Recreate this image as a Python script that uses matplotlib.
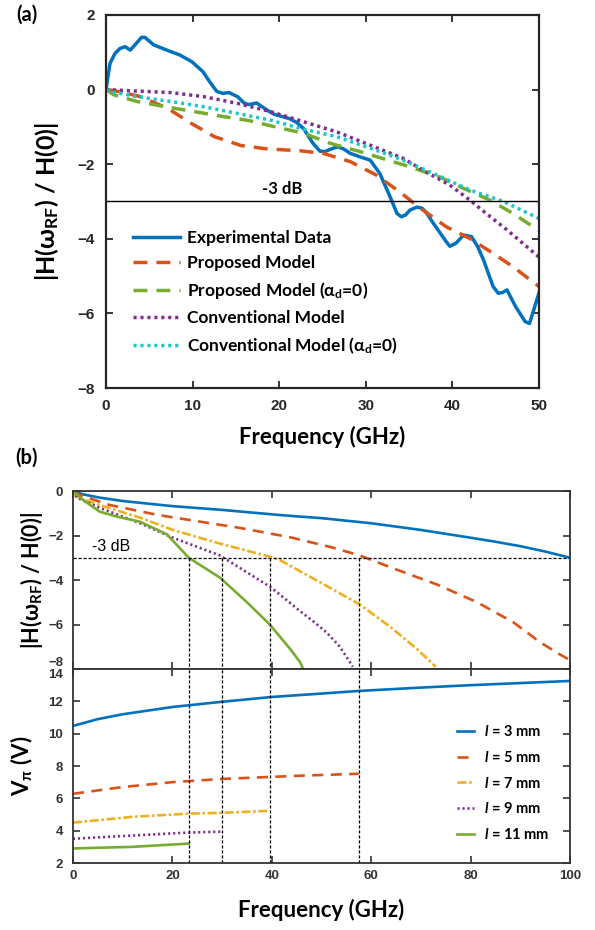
import matplotlib
matplotlib.use("Agg")
import matplotlib.pyplot as plt

plt.rcParams['font.family'] = ['Lato', 'DejaVu Sans']
plt.rcParams['mathtext.fontset'] = 'custom'
plt.rcParams['mathtext.rm'] = 'Lato:bold'
plt.rcParams['mathtext.it'] = 'Lato:bold:italic'
plt.rcParams['mathtext.bf'] = 'Lato:bold'

# ---------------- panel (a) data ----------------
exp_f = [0, 0.46, 1.04, 1.6, 2.2, 2.8, 3.35, 4.1, 4.5, 5.5, 7, 8.5, 9.9, 11.2, 12.0, 12.8,
         13.5, 14.2, 15.2, 16.0, 16.5, 17.4, 18.6, 19.4, 20.3, 21.2, 22.0, 22.8, 23.9, 24.7,
         25.3, 25.9, 26.8, 27.5, 28.2, 29.3, 30.5, 31.6, 32.8, 33.6, 34.1, 34.6, 35.1, 35.9,
         36.5, 37.0, 37.7, 38.6, 39.2, 39.7, 40.4, 41.3, 42.2, 42.9, 43.6, 44.7, 45.3, 45.8,
         46.3, 47.3, 48.4, 48.9, 49.4, 50]
exp_v = [0, 0.7, 0.97, 1.1, 1.15, 1.06, 1.2, 1.4, 1.4, 1.2, 1.06, 0.93, 0.75, 0.48, 0.2, -0.05,
         -0.1, -0.08, -0.19, -0.37, -0.4, -0.36, -0.55, -0.66, -0.72, -0.78, -0.88, -1.04, -1.44,
         -1.65, -1.66, -1.6, -1.53, -1.6, -1.71, -1.8, -1.89, -2.24, -2.87, -3.32, -3.41, -3.36,
         -3.23, -3.15, -3.18, -3.3, -3.55, -3.85, -4.05, -4.2, -4.12, -3.9, -3.94, -4.2, -4.57,
         -5.28, -5.46, -5.44, -5.37, -5.82, -6.22, -6.27, -5.9, -5.45]

prop_f = [0, 1.0, 4.0, 7.1, 9.8, 12.5, 15.6, 18.6, 22.4, 25.1, 28.2, 31.2, 33.9, 36.3, 39.3,
          42.0, 44.7, 47.0, 50]
prop_v = [0, -0.03, -0.19, -0.5, -0.9, -1.26, -1.5, -1.59, -1.64, -1.71, -1.93, -2.29, -2.74,
          -3.18, -3.68, -3.99, -4.39, -4.75, -5.28]

prop0_f = [0, 0.9, 3.6, 7.1, 10.2, 13.2, 16.5, 19.2, 22.8, 25.9, 29.3, 35.1, 38.6, 41.3, 44.3,
           47.0, 49.6, 50]
prop0_v = [0, -0.14, -0.32, -0.47, -0.59, -0.71, -0.83, -0.98, -1.17, -1.44, -1.66, -2.07,
           -2.35, -2.65, -2.96, -3.32, -3.72, -3.78]

conv_f = [0, 3.6, 7.5, 11.3, 15.2, 19.0, 22.8, 26.6, 30.5, 34.3, 36.6, 39.7, 42.0, 43.9, 46.3,
          50]
conv_v = [0, -0.04, -0.08, -0.19, -0.37, -0.59, -0.86, -1.13, -1.49, -1.84, -2.16, -2.56,
          -2.96, -3.32, -3.76, -4.49]

conv0_f = [0, 0.7, 3.6, 7.5, 11.3, 15.2, 19.0, 22.8, 26.6, 30.5, 34.3, 38.2, 42.0, 45.9, 49.6,
           50]
conv0_v = [0, -0.06, -0.19, -0.32, -0.46, -0.64, -0.82, -1.06, -1.26, -1.57, -1.89, -2.29,
           -2.69, -3.0, -3.41, -3.46]

labels_a = ['Experimental Data', 'Proposed Model', r'Proposed Model ($\mathrm{\alpha_d}$=0)',
            'Conventional Model', r'Conventional Model ($\mathrm{\alpha_d}$=0)']

# ---------------- panel (b) data ----------------
lengths = [3, 5, 7, 9, 11]
bw_3db = [23.3, 30.0, 39.6, 57.5]

h3_f = [0, 2, 5.4, 10, 20, 30, 41.6, 45.7, 50, 60, 70, 80, 85, 90, 95, 100]
h3_v = [0, -0.15, -0.3, -0.45, -0.68, -0.85, -1.08, -1.15, -1.22, -1.45, -1.75, -2.1, -2.28,
        -2.48, -2.72, -3.0]
h5_f = [0, 1.4, 7.4, 16.9, 25.6, 33.6, 43.7, 52.4, 57.7, 65.2, 73.2, 81.3, 88.6, 94, 98, 100]
h5_v = [0, -0.18, -0.63, -1.07, -1.38, -1.66, -2.08, -2.55, -2.9, -3.54, -4.2, -5.0, -5.9, -6.8,
        -7.35, -7.6]
h7_f = [0, 0.8, 5.4, 13.5, 20.1, 29.0, 39.6, 41.6, 49.7, 57.7, 63.8, 69.2, 73.0]
h7_v = [0, -0.27, -0.63, -1.2, -1.75, -2.33, -2.95, -3.1, -4.1, -5.1, -6.1, -7.1, -7.9]
h9_f = [0, 0.8, 5.4, 13.5, 20.1, 29.6, 39.6, 41.6, 45.7, 48.3, 51.0, 53.7, 56.3]
h9_v = [0, -0.3, -0.76, -1.45, -2.1, -2.9, -4.3, -4.65, -5.4, -5.85, -6.35, -7.0, -7.9]
h11_f = [0, 2, 5.4, 8.8, 13.5, 18.9, 23.3, 29.6, 35.0, 39.6, 43.7, 45.7, 46.3]
h11_v = [0, -0.4, -0.93, -1.15, -1.38, -1.95, -3.0, -3.9, -5.0, -6.0, -7.1, -7.7, -8.0]

v3_f = [0, 5, 10, 20, 29.6, 40, 50, 57.4, 70, 80, 90, 100]
v3_v = [10.48, 10.9, 11.2, 11.65, 11.96, 12.27, 12.48, 12.64, 12.85, 13.0, 13.13, 13.26]
v5_f = [0, 10, 20, 30, 45.7, 57.5]
v5_v = [6.28, 6.7, 7.0, 7.2, 7.4, 7.52]
v7_f = [0, 12.2, 23, 29.6, 39.6]
v7_v = [4.5, 4.86, 5.05, 5.1, 5.23]
v9_f = [0, 12, 23, 30.0]
v9_v = [3.5, 3.7, 3.88, 3.94]
v11_f = [0, 12, 23.3]
v11_v = [2.9, 3.0, 3.2]

blue = '#0072BD'
red = '#D95319'
yellow = '#EDB120'
purple = '#7E2F8E'
green = '#77AC30'
cyan = '#1CC6CC'

tickfont = {'family': 'Liberation Sans', 'weight': 'bold'}

fig = plt.figure(figsize=(5.95, 9.3), dpi=100)

# ================= (a) =================
ax = fig.add_axes([106 / 595, 1 - 388 / 930, 433 / 595, 373 / 930])
lw = 2.5
ax.plot(exp_f, exp_v, color=blue, lw=lw, label=labels_a[0])
ax.plot(prop_f, prop_v, color=red, lw=lw, dashes=(4, 2.6), label=labels_a[1])
ax.plot(prop0_f, prop0_v, color=green, lw=lw, dashes=(4, 2.6), label=labels_a[2])
ax.plot(conv_f, conv_v, color=purple, lw=lw, dashes=(0.9, 1.1), label=labels_a[3])
ax.plot(conv0_f, conv0_v, color=cyan, lw=lw, dashes=(0.9, 1.1), label=labels_a[4])
ax.axhline(-3, color='black', lw=1)
ax.text(18, -2.88, '-3 dB', fontsize=12, fontweight='bold', va='bottom', ha='left')

ax.set_xlim(0, 50)
ax.set_ylim(-8, 2)
ax.set_xticks(range(0, 51, 10))
ax.set_yticks(range(-8, 3, 2))
ax.tick_params(direction='in', top=True, right=True, length=5, width=1.3,
               colors='#262626', pad=8)
for lab in ax.get_xticklabels() + ax.get_yticklabels():
    lab.set_fontproperties(tickfont)
    lab.set_fontsize(11)
for s in ax.spines.values():
    s.set_linewidth(1.6)
    s.set_color('#262626')
ax.set_xlabel('Frequency (GHz)', fontsize=16, fontweight='bold', labelpad=9)
ax.set_ylabel(r'|H(ω$_{\mathrm{RF}}$) / H(0)|', fontsize=18, fontweight='bold', labelpad=12)

ax.legend(loc='upper left', bbox_to_anchor=(133 / 595, 1 - 230 / 930),
          bbox_transform=fig.transFigure, frameon=False,
          prop={'weight': 'bold', 'size': 12.5}, handlelength=2.7, handletextpad=0.4,
          labelspacing=0.52, borderpad=0, borderaxespad=0)

fig.text(27 / 595, 1 - 15 / 930, '(a)', fontsize=14.5, fontweight='bold', ha='center', va='center')
fig.text(27 / 595, 1 - 458 / 930, '(b)', fontsize=14.5, fontweight='bold', ha='center', va='center')

# ================= (b) =================
ax1 = fig.add_axes([73 / 595, 1 - 669 / 930, 497 / 595, 178 / 930])
ax2 = fig.add_axes([73 / 595, 1 - 863 / 930, 497 / 595, 194 / 930])

lwb = 1.9
styles = [dict(color=blue, lw=lwb),
          dict(color=red, lw=lwb, dashes=(4.2, 2.8)),
          dict(color=yellow, lw=lwb, dashes=(3.4, 1.0, 1.0, 1.0)),
          dict(color=purple, lw=lwb, dashes=(0.8, 1.1)),
          dict(color=green, lw=lwb)]

top_f = [h3_f, h5_f, h7_f, h9_f, h11_f]
top_v = [h3_v, h5_v, h7_v, h9_v, h11_v]
bot_f = [v3_f, v5_f, v7_f, v9_f, v11_f]
bot_v = [v3_v, v5_v, v7_v, v9_v, v11_v]

for f, v, st in zip(top_f, top_v, styles):
    ax1.plot(f, v, **st)
for f, v, st, L in zip(bot_f, bot_v, styles, lengths):
    ax2.plot(f, v, label=r'$\mathit{l}$ = %d mm' % L, **st)

ax1.plot([0, 100], [-3, -3], color='black', lw=0.9, dashes=(2.5, 1.5))
for b in bw_3db:
    ax1.plot([b, b], [-3, -8], color='black', lw=0.9, dashes=(2.5, 1.5))
    ax2.axvline(b, color='black', lw=0.9, dashes=(2.5, 1.5))
ax1.text(3.8, -2.85, '-3 dB', fontsize=11.5, family='Liberation Sans', va='bottom', ha='left')

ax1.set_xlim(0, 100)
ax1.set_ylim(-8, 0)
ax1.set_yticks([-8, -6, -4, -2, 0])
ax2.set_xlim(0, 100)
ax2.set_ylim(2, 14)
ax2.set_yticks(range(2, 15, 2))
for a in (ax1, ax2):
    a.set_xticks(range(0, 101, 20))
    a.tick_params(direction='in', top=True, right=True, length=5, width=1.2,
                  colors='#333333', pad=7)
    for s in a.spines.values():
        s.set_linewidth(1.3)
        s.set_color('#333333')
    for lab in a.get_xticklabels() + a.get_yticklabels():
        lab.set_fontproperties(tickfont)
        lab.set_fontsize(9.5)
ax1.tick_params(labelbottom=False)
ax2.tick_params(axis='x', pad=5)

ax1.set_ylabel(r'|H(ω$_{\mathrm{RF}}$) / H(0)|', fontsize=15.5, fontweight='bold', labelpad=2)
ax2.set_ylabel(r'V$_{\mathrm{π}}$ (V)', fontsize=16, fontweight='bold', labelpad=10)
ax2.set_xlabel('Frequency (GHz)', fontsize=16, fontweight='bold', labelpad=12)

ax2.legend(loc='upper left', bbox_to_anchor=(457 / 595, 1 - 724 / 930),
           bbox_transform=fig.transFigure, frameon=False,
           prop={'weight': 'bold', 'size': 10.5}, handlelength=1.15, handletextpad=0.7,
           labelspacing=0.74, borderpad=0, borderaxespad=0)

# nudge the shared-edge labels apart like the original
ax1.get_yticklabels()[0].set_va('bottom')
ax2.get_yticklabels()[-1].set_va('top')

fig.savefig('out.png', dpi=100)
